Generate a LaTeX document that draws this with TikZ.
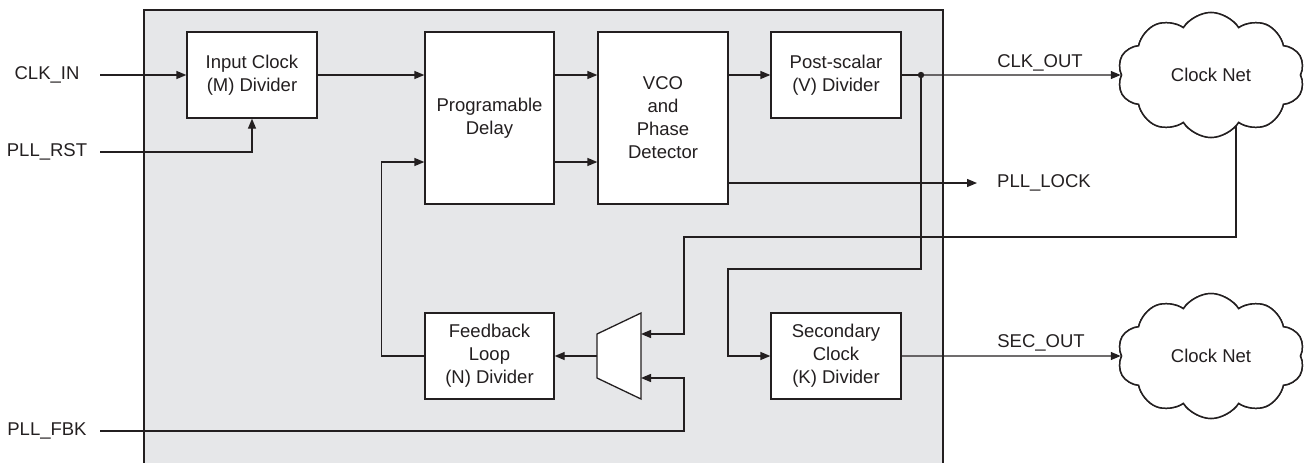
\documentclass[tikz,border=0pt]{standalone}
\usepackage{fontspec}
\setmainfont{Liberation Sans}
\usetikzlibrary{arrows.meta,shapes.symbols}
\definecolor{chipgray}{RGB}{230,231,233}
\definecolor{ink}{RGB}{35,31,32}

\begin{document}
\begin{tikzpicture}[x=1pt,y=-1pt,
  every node/.style={font=\fontsize{18.5}{23}\selectfont, text=ink},
  block/.style={draw=ink, fill=white, line width=1.3pt, align=center, inner sep=0pt},
  wire/.style={draw=ink, line width=1.3pt},
  sig/.style={wire, -{Triangle[length=10pt,width=8pt]}},
  net/.style={cloud, cloud puffs=10, cloud puff arc=115, aspect=1.5, draw=ink,
    line width=1.5pt, fill=white, minimum width=187pt, minimum height=125pt, inner sep=0pt},
  lbl/.style={inner sep=0pt}
]
\useasboundingbox (0,0) rectangle (1307,463);

% device outline (runs off the bottom edge)
\fill[chipgray] (144,10) rectangle (943,463);
\draw[ink, line width=1.3pt] (144,463) -- (144,10) -- (943,10) -- (943,463);

% functional blocks
\node[block, minimum width=130pt, minimum height=86pt]  (inclk) at (252,75)   {Input Clock\\(M) Divider};
\node[block, minimum width=129pt, minimum height=172pt] (delay) at (489.5,118) {Programable\\Delay};
\node[block, minimum width=130pt, minimum height=172pt] (vco)   at (663,118)   {VCO\\and\\Phase\\Detector};
\node[block, minimum width=130pt, minimum height=86pt]  (post)  at (836,75)    {Post-scalar\\(V) Divider};
\node[block, minimum width=129pt, minimum height=86pt]  (fb)    at (489.5,356) {Feedback\\Loop\\(N) Divider};
\node[block, minimum width=130pt, minimum height=86pt]  (sec)   at (836,356)   {Secondary\\Clock\\(K) Divider};

% feedback source multiplexer
\coordinate (mux-a) at (641,334);
\coordinate (mux-b) at (641,378);
\coordinate (mux-out) at (597,356);
\draw[ink, fill=white, line width=1.3pt] (641,313) -- (641,399) -- (597,378) -- (597,334) -- cycle;

% external pins
\node[lbl] (t-clkin) at (47,75)  {CLK\_IN};
\node[lbl] (t-rst)   at (47,152) {PLL\_RST};
\node[lbl] (t-fbk)   at (47,431) {PLL\_FBK};
\coordinate (pin-clk) at (100,75);
\coordinate (pin-rst) at (100,152);
\coordinate (pin-fbk) at (100,431);
\coordinate (pin-lock) at (977,183);
\node[lbl, anchor=west] (t-lock) at (997,183) {PLL\_LOCK};

% routing points
\coordinate (tap) at (921,75);
\coordinate (kjog) at (728,269);
\coordinate (fbx) at (1236,0);
\coordinate (fjog) at (684,237);
\coordinate (fbkjog) at (684,378);

% input path
\draw[sig] (pin-clk) -- (inclk.west);
\draw[sig] (pin-rst) -| (inclk.south);
\draw[sig] (inclk.east) -- (delay.west |- inclk.east);
\draw[sig] (delay.east |- inclk.east) -- (vco.west |- inclk.east);
\draw[sig] ([yshift=-44pt]delay.east) -- ([yshift=-44pt]vco.west);
\draw[sig] (vco.east |- post.west) -- (post.west);
\draw[sig] ([yshift=-65pt]vco.east) -- (pin-lock);

% outputs
\draw[wire] (post.east) -- (tap);
\draw[sig] (tap) |- (kjog) |- (sec.west);

% feedback selection
\draw[sig] (pin-fbk) -| (fbkjog) -- (mux-b);
\draw[sig] (mux-out) -- (fb.east);
\draw[sig] (fb.west) -- ++(-43,0) |- ([yshift=-44pt]delay.west);

% clock nets
\node[net] (net1) at (1211,75) {};
\node[net] (net2) at (1211,356) {};
\draw[sig] (net1.center -| fbx) |- (fjog) |- (mux-a);
\node[net] at (net1) {Clock Net};
\node[net] at (net2) {Clock Net};
\draw[sig] (tap) -- (net1.west);
\draw[sig] (sec.east) -- (net2.west);
\fill[ink] (tap) circle (3.2pt);
\node[lbl] (t-clkout) at (1040,63)  {CLK\_OUT};
\node[lbl] (t-secout) at (1041,343) {SEC\_OUT};
\end{tikzpicture}
\end{document}
